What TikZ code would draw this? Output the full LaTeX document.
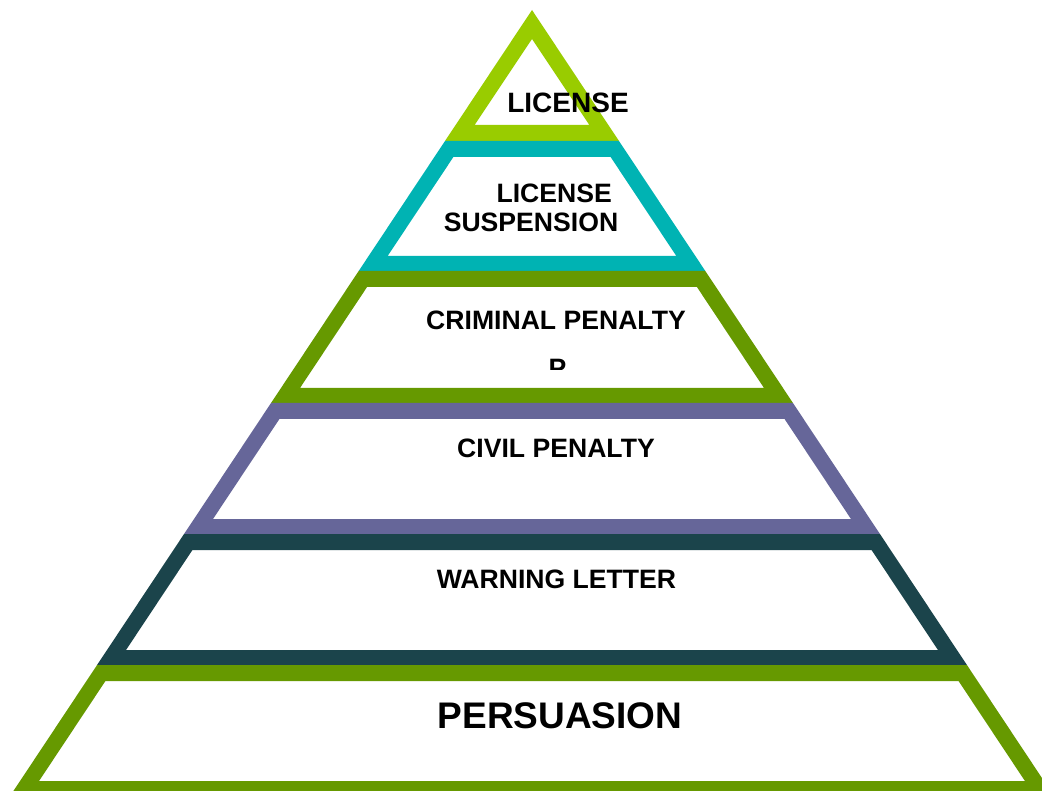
\documentclass[tikz,border=0pt]{standalone}
\usepackage{fontspec}
\setmainfont{Liberation Sans}
\definecolor{limegreen}{HTML}{99CC00}
\definecolor{tealband}{HTML}{00B3B3}
\definecolor{olivegreen}{HTML}{669900}
\definecolor{slatepurple}{HTML}{666699}
\definecolor{darkslate}{HTML}{1B444B}
% pyramid side: x = 532 -+ 0.664*(y-10); frame 16 thick (19 measured across)
\newcommand\pyrband[3]{%
  \fill[#3, even odd rule]
    ({532-0.664*(#1-10)},#1) -- ({532+0.664*(#1-10)},#1) --
    ({532+0.664*(#2-10)},#2) -- ({532-0.664*(#2-10)},#2) -- cycle
    ({532-0.664*(#1+6)+19},#1+16) -- ({532+0.664*(#1+6)-19},#1+16) --
    ({532+0.664*(#2-25)-19},#2-15) -- ({532-0.664*(#2-25)+19},#2-15) -- cycle;
}
\tikzset{
  label/.style={inner sep=0pt, anchor=base, font=\bfseries\fontsize{26.6}{32}\selectfont, text=black}
}
\begin{document}
\begin{tikzpicture}[x=1pt,y=-1pt]
  \clip (0,0) rectangle (1042,791);
  \fill[white] (0,0) rectangle (1042,791);
  % apex triangle
  \fill[limegreen, even odd rule]
    (532,10) -- (445,141) -- (619,141) -- cycle
    (532,39) -- (589.4,125) -- (474.6,125) -- cycle;
  % lower bands, top to bottom
  \pyrband{141}{271}{tealband}
  \pyrband{271}{403}{olivegreen}
  \pyrband{403}{534}{slatepurple}
  \pyrband{534}{665}{darkslate}
  \pyrband{665}{796}{olivegreen}
  % labels
  \node[label, font=\bfseries\fontsize{28}{33}\selectfont] (license) at (568,112.5) {LICENSE};
  \node[label, anchor=base east] (suspA) at (612,202.5) {LICENSE};
  \node[label] (suspB) at (531,231.5) {SUSPENSION};
  \node[label] (criminal) at (556,330) {CRIMINAL PENALTY};
  \begin{scope}
    \clip (520,340) rectangle (600,370);
    \node[label] (criminalP) at (557.5,378) {P};
  \end{scope}
  \node[label] (civil) at (556,457.5) {CIVIL PENALTY};
  \node[label] (warning) at (556.5,588.5) {WARNING LETTER};
  \node[label, font=\bfseries\fontsize{37}{44}\selectfont] (persuasion) at (560,728.5) {PERSUASION};
\end{tikzpicture}
\end{document}
